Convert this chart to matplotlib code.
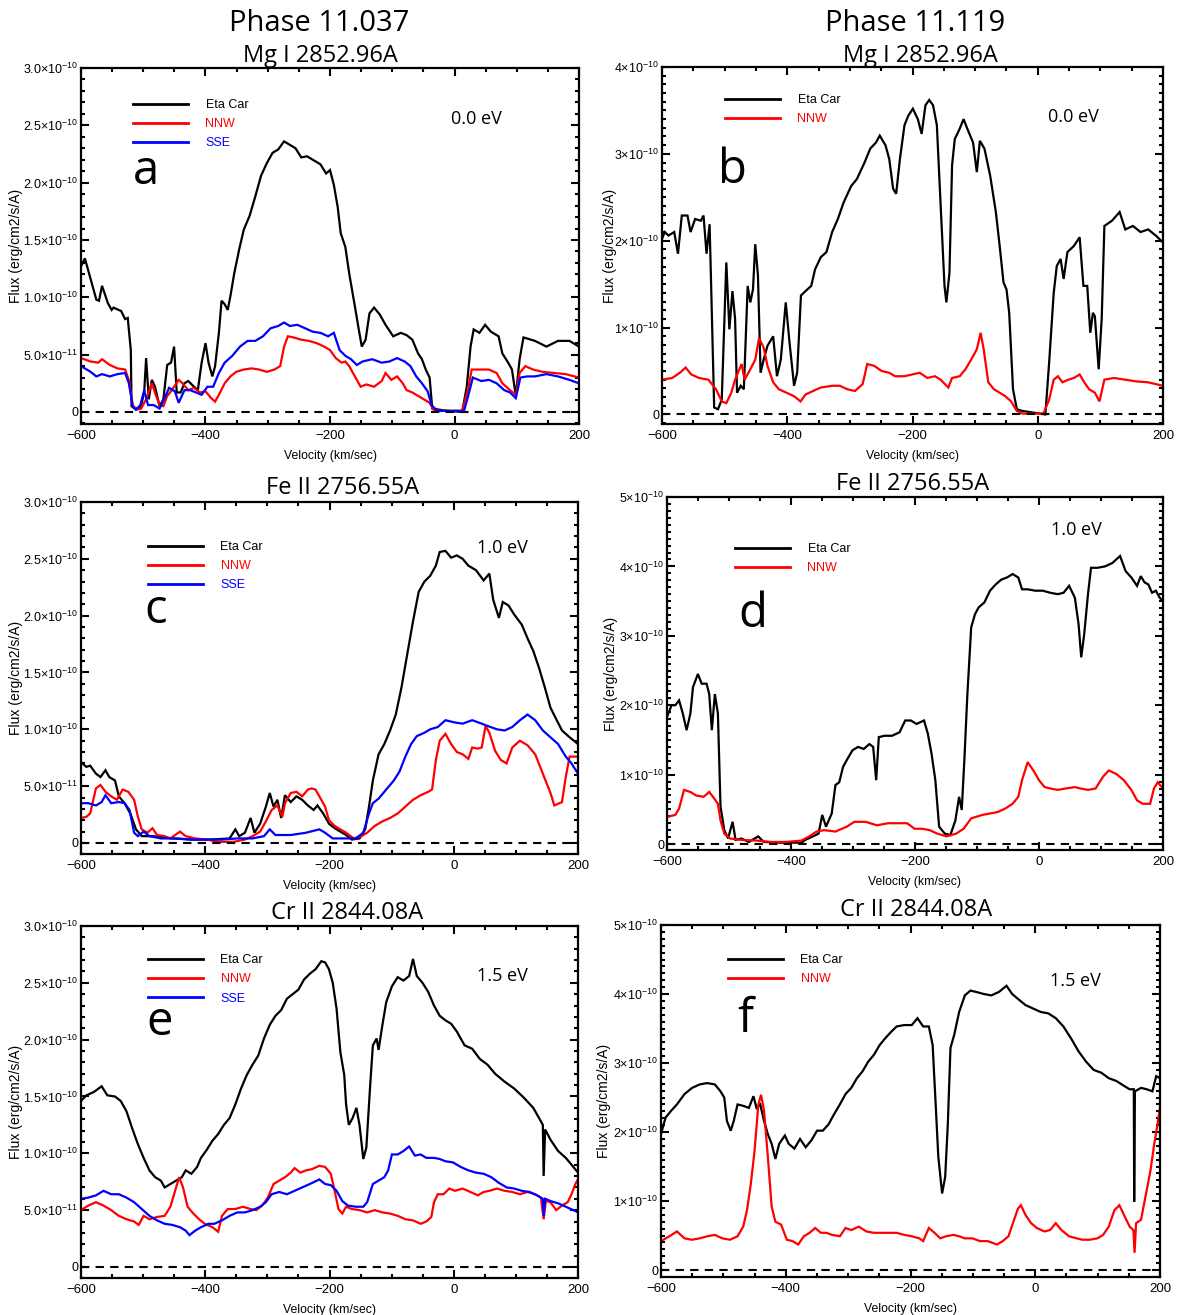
import matplotlib
matplotlib.use("Agg")
import matplotlib.pyplot as plt
from matplotlib.ticker import MultipleLocator, FixedLocator, FuncFormatter
import numpy as np

plt.rcParams['font.family'] = ['Liberation Sans', 'DejaVu Sans']
plt.rcParams['mathtext.fontset'] = 'custom'
plt.rcParams['mathtext.rm'] = 'Liberation Sans'
plt.rcParams['mathtext.it'] = 'Liberation Sans:italic'
plt.rcParams['mathtext.bf'] = 'Liberation Sans:bold'

FLUX_UNIT = 1e-10  # fluxes below are in units of 1e-10 erg/cm2/s/A

# ---------------- Panel a : Phase 11.037, Mg I ----------------
A_ETA_V = [-600, -593.8, -575.4, -571.1, -566.2, -556.9, -550.8, -547.7, -535.4, -529.2, -524.9, -520.0, -518.8,
           -513.8, -504.6, -498.5, -495.4, -491.1, -486.2, -481.2, -473.8, -467.7, -461.5, -455.4, -450.5, -446.2,
           -440.0, -433.8, -427.7, -418.5, -412.3, -406.2, -400.0, -395.1, -389.0, -384.6, -378.5, -374.2, -369.2,
           -364.3, -360.0, -353.8, -345.8, -338.5, -329.2, -320.0, -310.8, -301.5, -292.3, -283.1, -273.8, -264.6,
           -255.4, -246.2, -236.9, -227.7, -215.4, -206.2, -200.0, -193.8, -187.7, -182.8, -175.4, -169.2, -160.0,
           -153.8, -148.9, -142.8, -136.6, -129.2, -120.0, -110.8, -98.5, -86.2, -76.9, -67.7, -58.5, -52.3, -46.2,
           -40.0, -35.7, -24.6, -12.3, 12.3, 19.7, 25.8, 30.8, 40.0, 49.2, 58.5, 70.8, 76.9, 86.2, 92.3, 98.5, 104.6,
           110.8, 129.2, 147.7, 166.2, 184.6, 200]
A_ETA_F = [1.27, 1.34, 0.98, 0.97, 1.10, 0.95, 0.89, 0.91, 0.88, 0.81, 0.82, 0.54, 0.05,
           0.03, 0.03, 0.17, 0.47, 0.11, 0.28, 0.22, 0.05, 0.11, 0.41, 0.43, 0.57, 0.17,
           0.17, 0.25, 0.27, 0.22, 0.19, 0.43, 0.60, 0.43, 0.31, 0.40, 0.69, 0.97, 0.94,
           0.89, 1.01, 1.21, 1.42, 1.59, 1.71, 1.88, 2.06, 2.17, 2.26, 2.29, 2.36, 2.33,
           2.30, 2.22, 2.23, 2.20, 2.16, 2.08, 2.11, 1.98, 1.79, 1.56, 1.44, 1.21, 0.92,
           0.72, 0.57, 0.63, 0.86, 0.91, 0.85, 0.76, 0.66, 0.69, 0.67, 0.63, 0.51, 0.46, 0.37,
           0.30, 0.03, 0.02, 0.01, 0.00, 0.22, 0.57, 0.72, 0.69, 0.76, 0.70, 0.66, 0.51, 0.43, 0.37, 0.14, 0.46,
           0.65, 0.62, 0.57, 0.62, 0.62, 0.57]

A_NNW_V = [-600, -584.6, -572.3, -566.2, -553.8, -541.5, -529.2, -523.1, -516.9, -510.8, -503.4, -495.4, -486.2,
           -480.0, -473.8, -467.7, -461.5, -455.4, -443.1, -436.9, -427.7, -418.5, -409.2, -400.0, -390.8, -384.6,
           -378.5, -369.2, -360.0, -350.8, -338.5, -326.2, -313.8, -301.5, -289.2, -280.0, -273.8, -267.7, -258.5,
           -246.2, -233.8, -221.5, -209.2, -200.0, -190.8, -181.5, -175.4, -169.2, -160.0, -150.8, -141.5, -129.2,
           -116.9, -110.8, -101.5, -92.3, -83.1, -76.9, -67.7, -58.5, -49.2, -40.0, -33.8, -24.6, 12.3, 21.5, 27.7,
           43.1, 55.4, 67.7, 76.9, 89.2, 98.5, 104.6, 113.8, 126.2, 141.5, 160.0, 178.5, 200]
A_NNW_F = [0.47, 0.44, 0.43, 0.46, 0.41, 0.38, 0.37, 0.28, 0.06, 0.02, 0.03, 0.11, 0.25,
           0.15, 0.06, 0.05, 0.14, 0.18, 0.28, 0.25, 0.19, 0.21, 0.17, 0.18, 0.12, 0.09,
           0.15, 0.25, 0.31, 0.35, 0.37, 0.38, 0.37, 0.35, 0.37, 0.40, 0.57, 0.66, 0.65,
           0.63, 0.62, 0.60, 0.57, 0.54, 0.47, 0.43, 0.44, 0.40, 0.31, 0.22, 0.24, 0.22,
           0.27, 0.34, 0.28, 0.31, 0.25, 0.19, 0.17, 0.14, 0.11, 0.08, 0.02, 0.01, 0.01, 0.19, 0.37,
           0.37, 0.37, 0.34, 0.25, 0.19, 0.15, 0.34, 0.40, 0.37, 0.35, 0.34, 0.33, 0.30]

A_SSE_V = [-600, -584.6, -575.4, -566.2, -553.8, -541.5, -529.2, -523.1, -516.9, -512.0, -504.6, -498.5, -492.3,
           -483.1, -473.8, -466.5, -458.5, -449.2, -443.1, -433.8, -424.6, -415.4, -406.2, -396.9, -387.7, -378.5,
           -369.2, -356.9, -344.6, -332.3, -320.0, -307.7, -295.4, -283.1, -273.8, -264.6, -252.3, -240.0, -227.7,
           -215.4, -203.1, -193.8, -184.6, -175.4, -166.2, -156.9, -147.7, -132.3, -116.9, -104.6, -92.3, -80.0,
           -70.8, -61.5, -52.3, -43.1, -36.9, -27.7, 15.4, 23.4, 29.5, 43.1, 55.4, 67.7, 80.0, 89.2, 98.5, 105.8,
           116.9, 129.2, 147.7, 166.2, 184.6, 200]
A_SSE_F = [0.40, 0.35, 0.31, 0.33, 0.31, 0.33, 0.34, 0.25, 0.05, 0.02, 0.06, 0.19, 0.06,
           0.06, 0.03, 0.11, 0.21, 0.18, 0.08, 0.19, 0.19, 0.17, 0.15, 0.22, 0.22, 0.34,
           0.43, 0.49, 0.57, 0.62, 0.62, 0.66, 0.73, 0.75, 0.78, 0.75, 0.76, 0.73, 0.70,
           0.69, 0.66, 0.69, 0.54, 0.49, 0.46, 0.41, 0.44, 0.46, 0.43, 0.44, 0.47, 0.44,
           0.40, 0.31, 0.25, 0.18, 0.06, 0.01, 0.01, 0.17, 0.30, 0.27, 0.28, 0.25, 0.19, 0.17, 0.12, 0.30,
           0.31, 0.31, 0.33, 0.31, 0.28, 0.25]

# ---------------- Panel b : Phase 11.119, Mg I ----------------
B_ETA_V = [-600, -595.7, -589.7, -580.5, -574.5, -568.4, -559.3, -554.4, -547.1, -538.0, -533.7, -528.9, -524.0,
           -521.0, -516.7, -510.6, -504.6, -497.3, -492.4, -487.5, -483.3, -480.2, -474.2, -469.3, -463.2, -459.0,
           -454.7, -451.1, -446.8, -442.6, -437.7, -431.6, -422.5, -416.4, -410.3, -402.4, -396.4, -389.1, -384.2,
           -378.1, -370.8, -361.7, -355.6, -346.5, -337.4, -328.3, -319.2, -310.0, -297.9, -288.8, -276.6, -267.5,
           -258.4, -252.3, -243.2, -237.1, -231.0, -226.1, -220.1, -212.8, -206.7, -199.4, -191.5, -185.4, -179.3,
           -173.3, -167.2, -161.1, -155.0, -148.9, -145.9, -141.0, -136.8, -132.5, -124.6, -118.5, -112.5, -103.3,
           -97.3, -92.4, -85.1, -76.0, -66.9, -60.8, -54.7, -49.9, -45.6, -39.5, -33.4, -24.3, 12.2, 18.2, 25.5,
           30.4, 36.5, 41.3, 47.4, 57.8, 66.9, 72.9, 79.0, 83.9, 88.1, 91.2, 97.3, 102.1, 106.4, 118.5, 130.7,
           139.8, 152.0, 164.1, 176.3, 188.4, 200]
B_ETA_F = [2.02, 2.10, 2.06, 2.10, 1.85, 2.29, 2.29, 2.10, 2.25, 2.23, 2.29, 1.85, 2.19,
           1.33, 0.08, 0.06, 0.17, 1.75, 0.98, 1.42, 1.10, 0.25, 0.33, 0.29, 1.48, 1.29,
           1.44, 1.96, 1.60, 0.48, 0.63, 0.79, 0.90, 0.44, 0.63, 1.29, 0.83, 0.33, 0.48,
           1.37, 1.42, 1.48, 1.67, 1.81, 1.87, 2.10, 2.25, 2.44, 2.63, 2.71, 2.90, 3.06,
           3.13, 3.21, 3.10, 2.94, 2.60, 2.54, 2.94, 3.33, 3.44, 3.52, 3.40, 3.23, 3.56,
           3.62, 3.56, 3.33, 2.40, 1.48, 1.29, 1.63, 2.87, 3.17, 3.29, 3.40, 3.29, 3.13,
           2.79, 3.15, 3.06, 2.75, 2.33, 1.94, 1.52, 1.44, 1.17, 0.29, 0.06, 0.04, 0.00, 0.60, 1.40,
           1.71, 1.79, 1.56, 1.87, 1.94, 2.04, 1.48, 1.48, 0.94, 1.17, 1.13, 0.52, 1.10, 2.17, 2.23, 2.33,
           2.13, 2.17, 2.10, 2.13, 2.06, 1.98]

B_NNW_V = [-600, -583.6, -571.4, -562.3, -553.2, -541.0, -525.8, -513.7, -504.6, -497.3, -489.4, -483.3, -472.9,
           -468.1, -459.0, -451.1, -445.0, -437.7, -431.6, -422.5, -413.4, -401.2, -389.1, -378.7, -370.8, -358.7,
           -346.5, -328.3, -316.1, -304.0, -291.8, -279.6, -272.3, -261.4, -249.2, -237.1, -227.9, -212.8, -200.6,
           -188.5, -176.3, -164.1, -155.0, -142.9, -136.8, -124.6, -115.5, -106.4, -97.3, -91.2, -86.3, -79.0,
           -69.9, -60.8, -51.7, -42.6, -33.4, -24.3, 9.1, 18.2, 25.5, 32.2, 39.5, 48.6, 57.8, 66.9, 74.2, 82.1,
           91.2, 98.5, 106.4, 121.6, 139.8, 158.1, 176.3, 200]
B_NNW_F = [0.40, 0.42, 0.48, 0.54, 0.46, 0.42, 0.40, 0.29, 0.15, 0.13, 0.25, 0.40, 0.58,
           0.40, 0.52, 0.63, 0.88, 0.77, 0.56, 0.37, 0.29, 0.25, 0.21, 0.15, 0.23, 0.27,
           0.31, 0.33, 0.33, 0.29, 0.27, 0.35, 0.58, 0.56, 0.50, 0.48, 0.44, 0.44, 0.46,
           0.48, 0.42, 0.44, 0.40, 0.31, 0.42, 0.44, 0.52, 0.63, 0.75, 0.94, 0.75, 0.37,
           0.29, 0.25, 0.21, 0.15, 0.04, 0.01, 0.01, 0.17, 0.40, 0.44, 0.37, 0.40, 0.42, 0.46, 0.37, 0.29,
           0.25, 0.15, 0.40, 0.42, 0.40, 0.38, 0.37, 0.33]

# ---------------- Panel c : Phase 11.037, Fe II ----------------
C_ETA_V = [-600, -591.4, -585.2, -576.0, -568.6, -560.6, -554.5, -545.3, -539.1, -529.9, -520.7, -511.5, -502.2,
           -483.8, -453.0, -422.3, -391.6, -360.8, -351.6, -345.4, -336.2, -327.0, -320.8, -311.6, -302.4, -296.2,
           -290.1, -283.9, -277.8, -271.7, -262.4, -253.2, -244.0, -234.8, -225.5, -219.4, -210.2, -200.9, -191.7,
           -182.5, -173.3, -164.0, -151.7, -142.5, -136.4, -130.2, -121.0, -111.8, -102.5, -93.3, -84.1, -74.9,
           -65.6, -56.4, -47.2, -38.0, -28.8, -22.6, -13.4, -4.2, 5.0, 14.3, 23.5, 35.8, 48.1, 57.3, 63.5, 72.7,
           78.9, 88.1, 97.3, 109.6, 118.8, 128.0, 137.3, 146.5, 155.7, 164.9, 174.2, 186.5, 200]
C_ETA_F = [0.71, 0.67, 0.68, 0.61, 0.58, 0.64, 0.58, 0.55, 0.41, 0.35, 0.26, 0.12, 0.06,
           0.06, 0.04, 0.03, 0.03, 0.04, 0.12, 0.06, 0.09, 0.22, 0.09, 0.17, 0.32, 0.44,
           0.32, 0.38, 0.22, 0.42, 0.36, 0.41, 0.38, 0.33, 0.29, 0.33, 0.26, 0.17, 0.13,
           0.10, 0.07, 0.03, 0.04, 0.12, 0.32, 0.55, 0.78, 0.87, 0.99, 1.13, 1.37, 1.66,
           1.95, 2.21, 2.30, 2.35, 2.44, 2.56, 2.57, 2.51, 2.53, 2.50, 2.44, 2.40, 2.31, 2.37, 2.14, 1.98,
           2.12, 2.09, 2.01, 1.92, 1.80, 1.69, 1.54, 1.37, 1.19, 1.09, 0.99, 0.93, 0.87]

C_NNW_V = [-600, -591.4, -585.2, -576.0, -568.6, -560.6, -551.4, -542.2, -533.0, -523.8, -514.5, -508.4, -502.2,
           -493.0, -485.0, -477.6, -465.3, -456.1, -440.7, -431.5, -416.1, -397.7, -379.2, -354.7, -336.2, -323.9,
           -311.6, -302.4, -293.2, -283.9, -275.9, -271.7, -262.4, -253.2, -244.0, -234.8, -228.6, -222.5, -216.3,
           -207.1, -200.9, -191.7, -182.5, -173.3, -161.0, -148.7, -139.4, -127.2, -114.8, -102.5, -90.2, -77.9,
           -65.6, -53.3, -41.1, -34.9, -28.8, -22.6, -13.4, -4.2, 5.0, 14.3, 23.5, 29.7, 38.9, 45.0, 51.2, 57.3,
           66.6, 75.8, 85.0, 94.2, 106.5, 118.8, 131.1, 143.4, 155.7, 161.9, 174.2, 180.3, 186.5, 200]
C_NNW_F = [0.22, 0.23, 0.26, 0.48, 0.51, 0.45, 0.41, 0.38, 0.47, 0.45, 0.38, 0.23, 0.12,
           0.09, 0.13, 0.07, 0.06, 0.04, 0.10, 0.06, 0.04, 0.03, 0.01, 0.01, 0.03, 0.06,
           0.10, 0.19, 0.29, 0.33, 0.23, 0.35, 0.44, 0.45, 0.41, 0.47, 0.48, 0.47, 0.41,
           0.32, 0.20, 0.15, 0.12, 0.09, 0.04, 0.06, 0.09, 0.15, 0.19, 0.22, 0.26, 0.32,
           0.38, 0.42, 0.45, 0.47, 0.73, 0.90, 0.96, 0.87, 0.80, 0.78, 0.74, 0.84, 0.83, 0.84, 1.03, 0.97,
           0.81, 0.73, 0.70, 0.84, 0.90, 0.86, 0.78, 0.61, 0.44, 0.33, 0.36, 0.58, 0.76, 0.76]

C_SSE_V = [-600, -588.3, -576.0, -566.8, -560.6, -551.4, -539.1, -529.9, -521.9, -514.5, -508.4, -499.2, -489.9,
           -471.5, -446.9, -422.3, -397.7, -373.1, -348.5, -323.9, -305.5, -296.2, -287.0, -262.4, -237.8, -216.3,
           -207.1, -194.8, -176.3, -157.9, -145.6, -136.4, -130.2, -121.0, -108.7, -96.4, -87.2, -77.9, -68.7,
           -59.5, -47.2, -38.0, -25.7, -13.4, 2.0, 14.3, 29.7, 45.0, 54.3, 69.6, 81.9, 94.2, 106.5, 118.8, 131.1,
           143.4, 155.7, 168.0, 180.3, 189.5, 200]
C_SSE_F = [0.35, 0.35, 0.33, 0.36, 0.42, 0.35, 0.36, 0.35, 0.29, 0.09, 0.06, 0.10, 0.06,
           0.04, 0.04, 0.03, 0.03, 0.03, 0.04, 0.04, 0.06, 0.12, 0.07, 0.07, 0.09, 0.12,
           0.09, 0.04, 0.04, 0.04, 0.09, 0.26, 0.35, 0.39, 0.47, 0.55, 0.63, 0.76, 0.87,
           0.94, 0.97, 1.00, 1.02, 1.08, 1.06, 1.05, 1.08, 1.05, 1.03, 1.00, 0.99, 1.02, 1.08, 1.13, 1.08,
           0.99, 0.93, 0.87, 0.76, 0.70, 0.61]

# ---------------- Panel d : Phase 11.119, Fe II ----------------
D_ETA_V = [-600, -592.7, -586.6, -580.5, -574.5, -568.4, -562.3, -558.1, -550.2, -544.1, -536.2, -531.9, -527.7,
           -522.8, -517.9, -513.7, -507.6, -501.5, -494.2, -489.4, -480.2, -468.1, -452.9, -443.8, -419.5, -383.0,
           -376.9, -364.7, -355.6, -349.6, -343.5, -334.3, -328.3, -322.2, -316.1, -310.0, -300.9, -291.8, -282.7,
           -273.6, -267.5, -262.6, -258.4, -249.2, -237.1, -224.9, -215.8, -206.7, -197.6, -185.4, -179.3, -173.3,
           -167.2, -161.1, -152.0, -142.9, -134.9, -128.9, -124.6, -120.4, -115.5, -109.4, -103.3, -97.3, -88.2,
           -79.0, -69.9, -60.8, -51.7, -42.6, -33.4, -27.4, -18.2, -6.1, 6.1, 18.2, 30.4, 39.5, 48.6, 57.8, 63.8,
           68.1, 72.9, 79.0, 83.9, 94.2, 106.4, 118.5, 130.7, 139.8, 149.0, 158.1, 164.2, 170.2, 176.3, 182.4,
           188.5, 194.6, 200]
D_ETA_F = [1.83, 2.00, 2.00, 2.07, 1.88, 1.64, 1.88, 2.26, 2.45, 2.31, 2.31, 2.16, 1.64,
           2.16, 1.88, 0.54, 0.20, 0.08, 0.32, 0.06, 0.08, 0.03, 0.11, 0.03, 0.02, 0.02,
           0.06, 0.11, 0.15, 0.42, 0.25, 0.44, 0.85, 0.89, 1.11, 1.21, 1.35, 1.40, 1.37,
           1.44, 1.40, 0.92, 1.54, 1.56, 1.56, 1.61, 1.78, 1.78, 1.73, 1.78, 1.59, 1.30,
           0.92, 0.25, 0.15, 0.13, 0.34, 0.68, 0.49, 1.21, 2.16, 3.12, 3.31, 3.41, 3.48,
           3.65, 3.74, 3.81, 3.84, 3.89, 3.84, 3.67, 3.67, 3.65, 3.65, 3.62, 3.60, 3.62, 3.72, 3.55, 3.17,
           2.69, 3.02, 3.60, 3.98, 3.98, 4.00, 4.05, 4.15, 3.93, 3.84, 3.72, 3.86, 3.77, 3.74, 3.62,
           3.65, 3.55, 3.50]

D_NNW_V = [-600, -586.6, -580.5, -572.6, -562.3, -553.2, -541.0, -531.9, -525.8, -517.9, -513.7, -507.6, -498.5,
           -480.2, -455.9, -431.6, -407.3, -383.0, -370.8, -358.7, -346.5, -328.3, -310.0, -297.9, -279.6, -261.4,
           -243.2, -224.9, -212.8, -200.6, -188.5, -176.3, -164.1, -148.9, -133.7, -121.6, -109.4, -91.2, -79.0,
           -66.9, -54.7, -42.6, -33.4, -27.4, -18.2, -9.1, 0.0, 9.1, 18.2, 30.4, 42.6, 57.8, 66.9, 79.0, 91.2,
           103.3, 112.5, 124.6, 136.8, 148.9, 158.1, 167.2, 179.3, 185.4, 191.5, 200]
D_NNW_F = [0.39, 0.42, 0.51, 0.78, 0.75, 0.70, 0.68, 0.75, 0.68, 0.58, 0.34, 0.15, 0.08,
           0.06, 0.05, 0.03, 0.03, 0.05, 0.11, 0.18, 0.20, 0.18, 0.25, 0.32, 0.32, 0.27,
           0.30, 0.30, 0.30, 0.22, 0.22, 0.20, 0.15, 0.11, 0.15, 0.22, 0.37, 0.42, 0.44,
           0.46, 0.51, 0.58, 0.68, 0.92, 1.18, 1.06, 0.92, 0.82, 0.80, 0.78, 0.80, 0.82, 0.80, 0.78, 0.80,
           0.97, 1.06, 1.01, 0.92, 0.78, 0.63, 0.58, 0.58, 0.80, 0.89, 0.80]

# ---------------- Panel e : Phase 11.037, Cr II ----------------
E_ETA_V = [-600, -591.4, -579.1, -566.8, -557.6, -545.3, -536.0, -526.8, -517.6, -508.4, -499.2, -489.9, -480.7,
           -471.5, -465.3, -456.1, -446.9, -437.7, -431.5, -422.3, -413.1, -406.9, -397.7, -388.5, -379.2, -370.0,
           -360.8, -351.6, -342.4, -333.1, -323.9, -314.7, -305.5, -296.2, -287.0, -277.8, -268.6, -259.3, -250.1,
           -240.9, -231.7, -222.4, -213.2, -207.1, -200.9, -194.8, -188.6, -182.5, -176.3, -173.3, -168.9, -162.8,
           -156.7, -151.7, -145.6, -140.7, -134.5, -130.2, -124.1, -121.0, -114.8, -108.7, -99.5, -90.2, -81.0,
           -71.8, -65.6, -59.5, -50.3, -41.1, -31.8, -22.6, -13.4, -4.2, 5.1, 17.4, 29.7, 42.0, 54.3, 66.6, 81.9,
           97.3, 112.7, 128.0, 137.3, 143.4, 144.7, 147.1, 155.7, 168.0, 180.3, 192.6, 200]
E_ETA_F = [1.46, 1.51, 1.54, 1.59, 1.51, 1.50, 1.46, 1.37, 1.22, 1.08, 0.96, 0.85, 0.79,
           0.76, 0.70, 0.73, 0.76, 0.79, 0.85, 0.82, 0.88, 0.96, 1.03, 1.11, 1.17, 1.25,
           1.31, 1.43, 1.57, 1.69, 1.78, 1.86, 2.01, 2.13, 2.21, 2.26, 2.36, 2.40, 2.44,
           2.53, 2.58, 2.62, 2.69, 2.68, 2.62, 2.50, 2.27, 1.89, 1.69, 1.43, 1.25, 1.31,
           1.40, 1.25, 0.95, 1.05, 1.60, 1.95, 2.01, 1.91, 2.13, 2.33, 2.47, 2.55, 2.52,
           2.56, 2.71, 2.56, 2.50, 2.42, 2.30, 2.21, 2.17, 2.14, 2.07, 1.95, 1.92, 1.83, 1.78, 1.70, 1.63,
           1.57, 1.49, 1.40, 1.31, 1.25, 0.80, 1.21, 1.12, 1.02, 0.96, 0.88, 0.83]

E_NNW_V = [-600, -588.3, -576.0, -563.7, -551.4, -539.1, -526.8, -514.5, -507.1, -499.2, -489.9, -477.6, -465.3,
           -456.1, -446.9, -442.0, -435.8, -428.4, -419.2, -410.0, -400.8, -388.5, -379.2, -373.1, -363.9, -351.6,
           -339.3, -327.0, -317.8, -308.5, -299.3, -290.1, -280.9, -271.6, -262.4, -256.3, -247.0, -237.8, -228.6,
           -216.3, -207.1, -197.9, -191.7, -185.6, -179.4, -173.3, -164.0, -151.7, -139.4, -127.2, -114.8, -102.5,
           -90.2, -77.9, -65.6, -53.3, -44.1, -36.1, -31.8, -25.7, -16.5, -7.2, 2.0, 14.3, 26.6, 38.9, 48.1, 57.3,
           69.6, 81.9, 94.2, 106.5, 118.8, 131.1, 140.3, 144.7, 148.3, 155.7, 164.9, 174.2, 183.4, 189.5, 195.7,
           200]
E_NNW_F = [0.50, 0.54, 0.57, 0.54, 0.50, 0.45, 0.42, 0.40, 0.37, 0.45, 0.42, 0.44, 0.45,
           0.53, 0.70, 0.79, 0.70, 0.53, 0.47, 0.42, 0.38, 0.35, 0.31, 0.45, 0.51, 0.51,
           0.53, 0.51, 0.50, 0.54, 0.61, 0.73, 0.76, 0.79, 0.83, 0.87, 0.83, 0.85, 0.86,
           0.89, 0.88, 0.82, 0.67, 0.51, 0.47, 0.53, 0.51, 0.50, 0.48, 0.50, 0.48, 0.47,
           0.45, 0.42, 0.41, 0.38, 0.40, 0.44, 0.57, 0.64, 0.64, 0.69, 0.67, 0.69, 0.66, 0.63, 0.66, 0.67,
           0.69, 0.67, 0.66, 0.64, 0.66, 0.64, 0.61, 0.42, 0.58, 0.57, 0.50, 0.54, 0.57, 0.64, 0.73,
           0.77]

E_SSE_V = [-600, -588.3, -576.0, -563.7, -551.4, -539.1, -526.8, -514.5, -502.2, -489.9, -477.6, -465.3, -453.0,
           -440.7, -431.5, -425.4, -416.1, -406.9, -394.6, -385.4, -373.1, -360.8, -348.5, -336.2, -323.9, -311.6,
           -302.4, -293.2, -280.9, -268.6, -256.3, -244.0, -231.7, -216.3, -207.1, -197.9, -188.6, -179.4, -170.2,
           -157.9, -145.6, -139.4, -130.2, -121.0, -111.8, -105.6, -99.5, -90.2, -81.0, -71.8, -62.6, -53.3, -44.1,
           -31.8, -22.6, -13.4, -1.1, 11.2, 23.5, 35.8, 48.1, 60.4, 72.7, 85.0, 97.3, 109.6, 121.9, 134.2, 143.4,
           144.7, 147.1, 155.7, 168.0, 180.3, 192.6, 200]
E_SSE_F = [0.60, 0.61, 0.63, 0.67, 0.64, 0.64, 0.61, 0.57, 0.51, 0.45, 0.41, 0.38, 0.37,
           0.35, 0.32, 0.28, 0.32, 0.35, 0.38, 0.38, 0.41, 0.45, 0.48, 0.48, 0.50, 0.53,
           0.57, 0.64, 0.66, 0.64, 0.67, 0.70, 0.73, 0.77, 0.73, 0.72, 0.67, 0.58, 0.54,
           0.53, 0.53, 0.57, 0.73, 0.76, 0.79, 0.85, 0.99, 0.99, 1.02, 1.06, 0.98, 0.99, 0.96,
           0.96, 0.95, 0.93, 0.92, 0.88, 0.85, 0.83, 0.82, 0.79, 0.74, 0.70, 0.69, 0.67, 0.66, 0.63, 0.60,
           0.45, 0.60, 0.58, 0.56, 0.53, 0.50, 0.48]

# ---------------- Panel f : Phase 11.119, Cr II ----------------
F_ETA_V = [-600, -592.7, -583.6, -574.5, -562.3, -550.2, -538.0, -525.9, -513.7, -504.6, -498.6, -494.3, -488.2,
           -483.4, -477.3, -468.2, -459.1, -451.8, -446.9, -440.9, -434.8, -428.7, -422.6, -416.6, -410.5, -401.4,
           -395.3, -386.2, -377.1, -368.0, -358.9, -349.8, -340.6, -331.5, -322.4, -313.3, -304.2, -295.0, -285.9,
           -276.9, -267.8, -258.6, -249.5, -240.4, -231.3, -222.2, -210.0, -197.9, -188.8, -179.7, -170.6, -164.5,
           -160.2, -155.4, -149.3, -144.4, -140.2, -135.9, -129.9, -122.0, -112.9, -103.8, -94.6, -82.5, -70.4,
           -58.2, -46.1, -37.0, -27.8, -15.7, -3.5, 8.6, 20.8, 32.9, 45.1, 57.2, 69.4, 81.5, 93.7, 105.8, 118.0,
           130.1, 142.2, 151.3, 158.0, 158.6, 159.8, 169.6, 178.7, 187.8, 193.9, 200]
F_ETA_F = [1.97, 2.21, 2.31, 2.40, 2.55, 2.64, 2.69, 2.71, 2.69, 2.59, 2.50, 2.16, 2.02,
           2.16, 2.40, 2.38, 2.35, 2.52, 2.35, 2.40, 2.16, 1.97, 1.83, 1.61, 1.83, 1.95,
           1.83, 1.76, 1.90, 1.78, 1.88, 2.02, 2.02, 2.11, 2.26, 2.40, 2.55, 2.64, 2.78,
           2.88, 3.02, 3.12, 3.26, 3.36, 3.45, 3.53, 3.55, 3.55, 3.65, 3.53, 3.53, 3.26,
           2.50, 1.64, 1.11, 1.35, 2.11, 3.22, 3.41, 3.74, 3.98, 4.05, 4.03, 4.00, 3.98,
           4.03, 4.12, 4.00, 3.93, 3.84, 3.79, 3.74, 3.72, 3.65, 3.53, 3.36, 3.17, 3.02, 2.90, 2.86, 2.78,
           2.74, 2.67, 2.62, 2.62, 0.99, 2.59, 2.64, 2.62, 2.59, 2.81, 2.78]

F_NNW_V = [-600, -586.6, -574.5, -562.3, -550.2, -538.0, -525.9, -513.7, -501.6, -489.5, -477.3, -468.2, -462.1,
           -456.0, -450.0, -443.9, -439.6, -434.8, -428.7, -422.6, -416.6, -407.5, -398.3, -389.2, -380.1, -371.0,
           -361.9, -352.8, -343.7, -334.6, -325.5, -313.3, -304.2, -295.0, -282.9, -270.8, -258.6, -246.5, -234.3,
           -222.2, -210.0, -197.9, -185.8, -179.7, -170.6, -161.5, -152.3, -143.2, -131.1, -122.0, -112.9, -100.7,
           -88.6, -76.4, -61.2, -52.1, -43.0, -33.9, -27.8, -23.0, -15.7, -6.6, 2.5, 14.7, 23.8, 32.9, 42.0, 54.2,
           66.3, 75.4, 87.6, 99.7, 108.8, 117.9, 127.0, 134.9, 142.2, 151.3, 157.4, 159.2, 161.7, 169.6, 178.7,
           184.7, 190.8, 196.9, 200]
F_NNW_F = [0.42, 0.49, 0.56, 0.46, 0.44, 0.46, 0.49, 0.51, 0.46, 0.44, 0.49, 0.63, 0.87,
           1.25, 1.73, 2.40, 2.54, 2.31, 1.64, 0.92, 0.70, 0.66, 0.44, 0.42, 0.37, 0.49,
           0.54, 0.61, 0.54, 0.54, 0.51, 0.49, 0.61, 0.58, 0.63, 0.56, 0.54, 0.54, 0.54,
           0.54, 0.51, 0.49, 0.46, 0.42, 0.61, 0.54, 0.46, 0.49, 0.51, 0.49, 0.46, 0.46,
           0.42, 0.42, 0.37, 0.42, 0.49, 0.73, 0.89, 0.94, 0.80, 0.68, 0.61, 0.56, 0.58, 0.68, 0.58, 0.49,
           0.46, 0.44, 0.44, 0.46, 0.51, 0.63, 0.87, 0.94, 0.80, 0.63, 0.58, 0.25, 0.68, 0.73, 1.16,
           1.44, 1.83, 2.16, 2.35]

SERIES_NAMES = ["Eta Car", "NNW", "SSE"]
SERIES_COLORS = ["black", "#ff0000", "#0000ff"]
PHASE_TITLES = ["Phase 11.037", "Phase 11.119"]
LINE_TITLES = ["Mg I 2852.96A", "Fe II 2756.55A", "Cr II 2844.08A"]
ENERGIES = ["0.0 eV", "1.0 eV", "1.5 eV"]
PANEL_LETTERS = ["a", "b", "c", "d", "e", "f"]
X_TICKS = [-600, -400, -200, 0, 200]
Y_TICKS_LEFT = [0, 0.5, 1.0, 1.5, 2.0, 2.5, 3.0]
Y_TICKS_B = [0, 1, 2, 3, 4]
Y_TICKS_DF = [0, 1, 2, 3, 4, 5]

W, H = 1183, 1315
fig = plt.figure(figsize=(W / 100, H / 100), dpi=100)
fig.patch.set_facecolor("white")

TITLE_FONT = "Open Sans"


def rect(left, right, top, bottom):
    return [left / W, 1 - bottom / H, (right - left) / W, (bottom - top) / H]


def fmt_left(v, pos):
    val = v / FLUX_UNIT
    if abs(val) < 1e-9:
        return "0"
    if abs(val - 0.5) < 1e-6:
        return r"$5.0{\times}10^{-11}$"
    return r"$%.1f{\times}10^{-10}$" % val


def fmt_right(v, pos):
    val = v / FLUX_UNIT
    if abs(val) < 1e-9:
        return "0"
    return r"$%d{\times}10^{-10}$" % round(val)


panels = [
    dict(box=(81, 579, 68, 424), ytop=3.0, ybot=-0.105, yticks=Y_TICKS_LEFT, fmt=fmt_left,
         series=[(A_ETA_V, A_ETA_F), (A_NNW_V, A_NNW_F), (A_SSE_V, A_SSE_F)],
         leg=(133, 104), letter=(133, 184), ev=(476, 119), ev_text=ENERGIES[0], ylx=23,
         title=(LINE_TITLES[0], 320, 62)),
    dict(box=(662, 1163, 67, 424), ytop=4.0, ybot=-0.11, yticks=Y_TICKS_B, fmt=fmt_right,
         series=[(B_ETA_V, B_ETA_F), (B_NNW_V, B_NNW_F)],
         leg=(725, 99), letter=(718, 183), ev=(1073, 117), ev_text=ENERGIES[0], ylx=617,
         title=(LINE_TITLES[0], 920, 62)),
    dict(box=(81, 578, 502, 854), ytop=3.0, ybot=-0.097, yticks=Y_TICKS_LEFT, fmt=fmt_left,
         series=[(C_ETA_V, C_ETA_F), (C_NNW_V, C_NNW_F), (C_SSE_V, C_SSE_F)],
         leg=(148, 546), letter=(144, 623), ev=(502, 548), ev_text=ENERGIES[1], ylx=23,
         title=(LINE_TITLES[1], 343, 494)),
    dict(box=(667, 1163, 497, 850), ytop=5.0, ybot=-0.086, yticks=Y_TICKS_DF, fmt=fmt_right,
         series=[(D_ETA_V, D_ETA_F), (D_NNW_V, D_NNW_F)],
         leg=(735, 548), letter=(738, 627), ev=(1076, 530), ev_text=ENERGIES[1], ylx=618,
         title=(LINE_TITLES[1], 913, 490)),
    dict(box=(81, 578, 926, 1278), ytop=3.0, ybot=-0.097, yticks=Y_TICKS_LEFT, fmt=fmt_left,
         series=[(E_ETA_V, E_ETA_F), (E_NNW_V, E_NNW_F), (E_SSE_V, E_SSE_F)],
         leg=(148, 959), letter=(146, 1035), ev=(502, 976), ev_text=ENERGIES[2], ylx=23,
         title=(LINE_TITLES[2], 347, 919)),
    dict(box=(661, 1160, 925, 1277), ytop=5.0, ybot=-0.1, yticks=Y_TICKS_DF, fmt=fmt_right,
         series=[(F_ETA_V, F_ETA_F), (F_NNW_V, F_NNW_F)],
         leg=(728, 959), letter=(737, 1032), ev=(1075, 981), ev_text=ENERGIES[2], ylx=611,
         title=(LINE_TITLES[2], 916, 916)),
]

for i, p in enumerate(panels):
    l, r, t, b = p["box"]
    axw, axh = r - l, b - t
    ax = fig.add_axes(rect(l, r, t, b))
    for k, (v, f) in enumerate(p["series"]):
        ax.plot(v, np.asarray(f) * FLUX_UNIT, color=SERIES_COLORS[k], lw=1.6,
                label=SERIES_NAMES[k], solid_joinstyle="miter")
    ax.axhline(0, color="black", lw=1.5, ls=(0, (4, 3)))
    ax.set_xlim(-600, 200)
    ax.set_ylim(p["ybot"] * FLUX_UNIT, p["ytop"] * FLUX_UNIT)
    ax.xaxis.set_major_locator(FixedLocator(X_TICKS))
    ax.xaxis.set_minor_locator(MultipleLocator(50))
    ax.yaxis.set_major_locator(FixedLocator([y * FLUX_UNIT for y in p["yticks"]]))
    ax.yaxis.set_minor_locator(MultipleLocator(0.1 * FLUX_UNIT))
    ax.yaxis.set_major_formatter(FuncFormatter(p["fmt"]))
    ax.tick_params(which="both", direction="in", top=True, right=True, width=1.5, color="black")
    ax.tick_params(which="major", length=6)
    ax.tick_params(which="minor", length=3)
    ax.tick_params(axis="x", labelsize=9.5, pad=4)
    ax.tick_params(axis="y", labelsize=9, pad=2)
    for s in ax.spines.values():
        s.set_linewidth(1.6)
    ax.set_xlabel("Velocity (km/sec)", fontsize=8.8)
    ax.xaxis.set_label_coords(0.5, -26 / axh)
    ax.set_ylabel("Flux (erg/cm2/s/A)", fontsize=10)
    ax.yaxis.set_label_coords((p["ylx"] - l) / axw, 0.5)

    lx, ly = p["leg"]
    leg = ax.legend(loc="upper left", bbox_to_anchor=((lx - l) / axw, 1 - (ly - t - 5) / axh),
                    frameon=False, fontsize=9, handlelength=4.4, handletextpad=1.4,
                    labelspacing=0.58, borderpad=0, borderaxespad=0, labelcolor="linecolor")
    for hl in leg.get_lines():
        hl.set_linewidth(2.0)

    px, py = p["letter"]
    ax.text((px - l) / axw, 1 - (py - t) / axh, PANEL_LETTERS[i], transform=ax.transAxes,
            fontsize=34, family=TITLE_FONT, ha="left", va="baseline")
    ex, ey = p["ev"]
    ax.text((ex - l) / axw, 1 - (ey - t) / axh, p["ev_text"], transform=ax.transAxes,
            fontsize=13, family=TITLE_FONT, ha="center", va="center")

    tt, tx, ty = p["title"]
    fig.text(tx / W, 1 - ty / H, tt, fontsize=17, family=TITLE_FONT, ha="center", va="baseline")

fig.text(319 / W, 1 - 31 / H, PHASE_TITLES[0], fontsize=21, family=TITLE_FONT, ha="center", va="baseline")
fig.text(915 / W, 1 - 31 / H, PHASE_TITLES[1], fontsize=21, family=TITLE_FONT, ha="center", va="baseline")

fig.savefig("out.png", dpi=100, facecolor="white")
